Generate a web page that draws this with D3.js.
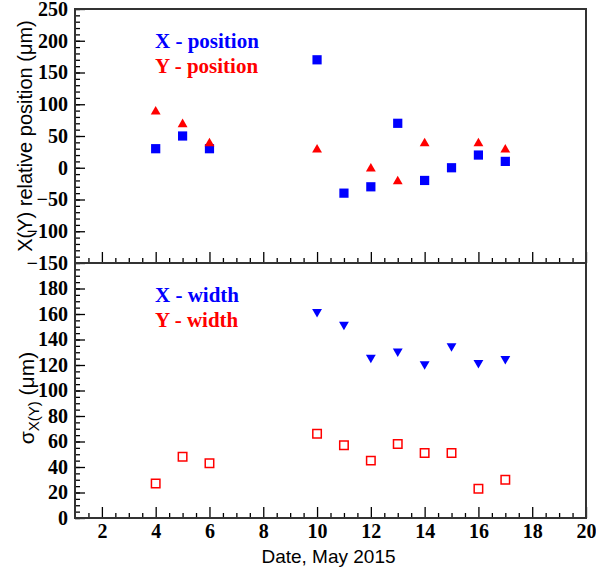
<!DOCTYPE html>
<html><head><meta charset="utf-8">
<script src="https://cdn.jsdelivr.net/npm/d3@7"></script>
<style>body{margin:0;background:#fff}svg{display:block}</style>
</head><body>
<script>
// ---- data ----
const posDaysX = [4,5,6,10,11,12,13,14,15,16,17];
const xPosition = [30,50,30,170,-40,-30,70,-20,0,20,10];
const posDaysY = [4,5,6,10,12,13,14,16,17];
const yPosition = [90,70,40,30,0,-20,40,40,30];
const widthDaysX = [10,11,12,13,14,15,16,17];
const xWidth = [161,151,125,130,120,134,121,124];
const widthDaysY = [4,5,6,10,11,12,13,14,15,16,17];
const yWidth = [27,48,43,66,57,45,58,51,51,23,30];
const xTicks = [2,4,6,8,10,12,14,16,18,20];
const topTicks = [-150,-100,-50,0,50,100,150,200,250];
const botTicks = [0,20,40,60,80,100,120,140,160,180];

const W = 596, H = 568;
const L = 75, R = 586, T = 9, MID = 263, B = 518;
const svg = d3.select("body").append("svg").attr("width", W).attr("height", H);

const x = d3.scaleLinear().domain([1,20]).range([L,R]);
const yT = d3.scaleLinear().domain([-150,250]).range([MID,T]);
const yB = d3.scaleLinear().domain([0,200]).range([B,MID]);

const serif = "'Liberation Serif','Times New Roman',serif";
const sans = "'Liberation Sans',Arial,sans-serif";

function styleAxis(g){
  g.select(".domain").remove();
  g.selectAll("line").attr("stroke","#000").attr("stroke-width",1.3);
  g.selectAll("text").attr("font-family",serif).attr("font-weight","bold").attr("font-size",20).attr("fill","#000");
}
const range = (a,b,s)=>d3.range(a,b+s/2,s);

// top panel y axis
svg.append("g").attr("transform",`translate(${L},0)`)
  .call(d3.axisLeft(yT).tickValues(range(-150,250,10)).tickSize(-5).tickFormat("")).call(styleAxis);
svg.append("g").attr("transform",`translate(${L},0)`)
  .call(d3.axisLeft(yT).tickValues(topTicks).tickSize(-10).tickPadding(7).tickFormat(d3.format("d"))).call(styleAxis);
// bottom panel y axis
svg.append("g").attr("transform",`translate(${L},0)`)
  .call(d3.axisLeft(yB).tickValues(range(0,195,5)).tickSize(-5).tickFormat("")).call(styleAxis);
svg.append("g").attr("transform",`translate(${L},0)`)
  .call(d3.axisLeft(yB).tickValues(botTicks).tickSize(-10).tickPadding(7).tickFormat(d3.format("d"))).call(styleAxis);

// x axes
[MID, B].forEach((yy,i)=>{
  svg.append("g").attr("transform",`translate(0,${yy})`)
    .call(d3.axisBottom(x).tickValues(range(1.5,19.5,0.5).filter(v=>v%2!==0)).tickSize(-5).tickFormat("")).call(styleAxis);
  svg.append("g").attr("transform",`translate(0,${yy})`)
    .call(d3.axisBottom(x).tickValues(xTicks).tickSize(-11).tickPadding(6).tickFormat(i===1?d3.format("d"):"")).call(styleAxis);
});

// frames
svg.append("rect").attr("x",L).attr("y",T).attr("width",R-L).attr("height",MID-T)
  .attr("fill","none").attr("stroke","#333").attr("stroke-width",2);
svg.append("rect").attr("x",L).attr("y",MID).attr("width",R-L).attr("height",B-MID)
  .attr("fill","none").attr("stroke","#333").attr("stroke-width",2);

// markers
const sq = d3.symbol().type(d3.symbolSquare).size(85);
const sqOpen = d3.symbol().type(d3.symbolSquare).size(72);
const tri = d3.symbol().type(d3.symbolTriangle).size(42);

svg.append("g").selectAll("path").data(posDaysX.map((d,i)=>[d,xPosition[i]])).join("path")
  .attr("d",sq).attr("fill","#0000ff")
  .attr("transform",d=>`translate(${x(d[0])},${yT(d[1])})`);
svg.append("g").selectAll("path").data(posDaysY.map((d,i)=>[d,yPosition[i]])).join("path")
  .attr("d",tri).attr("fill","#ff0000")
  .attr("transform",d=>`translate(${x(d[0])},${yT(d[1])+1})`);
svg.append("g").selectAll("path").data(widthDaysX.map((d,i)=>[d,xWidth[i]])).join("path")
  .attr("d",tri).attr("fill","#0000ff")
  .attr("transform",d=>`translate(${x(d[0])},${yB(d[1])-1}) rotate(180)`);
svg.append("g").selectAll("path").data(widthDaysY.map((d,i)=>[d,yWidth[i]])).join("path")
  .attr("d",sqOpen).attr("fill","none").attr("stroke","#ff0000").attr("stroke-width",1.5)
  .attr("transform",d=>`translate(${x(d[0])},${yB(d[1])})`);

// legends
const leg = [["X - position","#0000ff",48],["Y - position","#ff0000",73],["X - width","#0000ff",302],["Y - width","#ff0000",327]];
svg.append("g").selectAll("text").data(leg).join("text")
  .attr("x",155).attr("y",d=>d[2]).text(d=>d[0]).attr("fill",d=>d[1])
  .attr("font-family",serif).attr("font-weight","bold").attr("font-size",21);

// axis titles
svg.append("text").attr("x",(L+R)/2+-2).attr("y",563).attr("text-anchor","middle")
  .attr("font-family",sans).attr("font-size",19).text("Date, May 2015");
svg.append("text").attr("transform","translate(32,136) rotate(-90)").attr("text-anchor","middle")
  .attr("font-family",sans).attr("font-size",20).text("X(Y) relative position (\u03bcm)");
const st = svg.append("text").attr("transform","translate(34,398) rotate(-90)").attr("text-anchor","middle")
  .attr("font-family",sans).attr("font-size",21);
st.append("tspan").text("\u03c3");
st.append("tspan").attr("font-size",15).attr("dy",5).text("X(Y)");
st.append("tspan").attr("dy",-5).text(" (\u03bcm)");
</script>
</body></html>
